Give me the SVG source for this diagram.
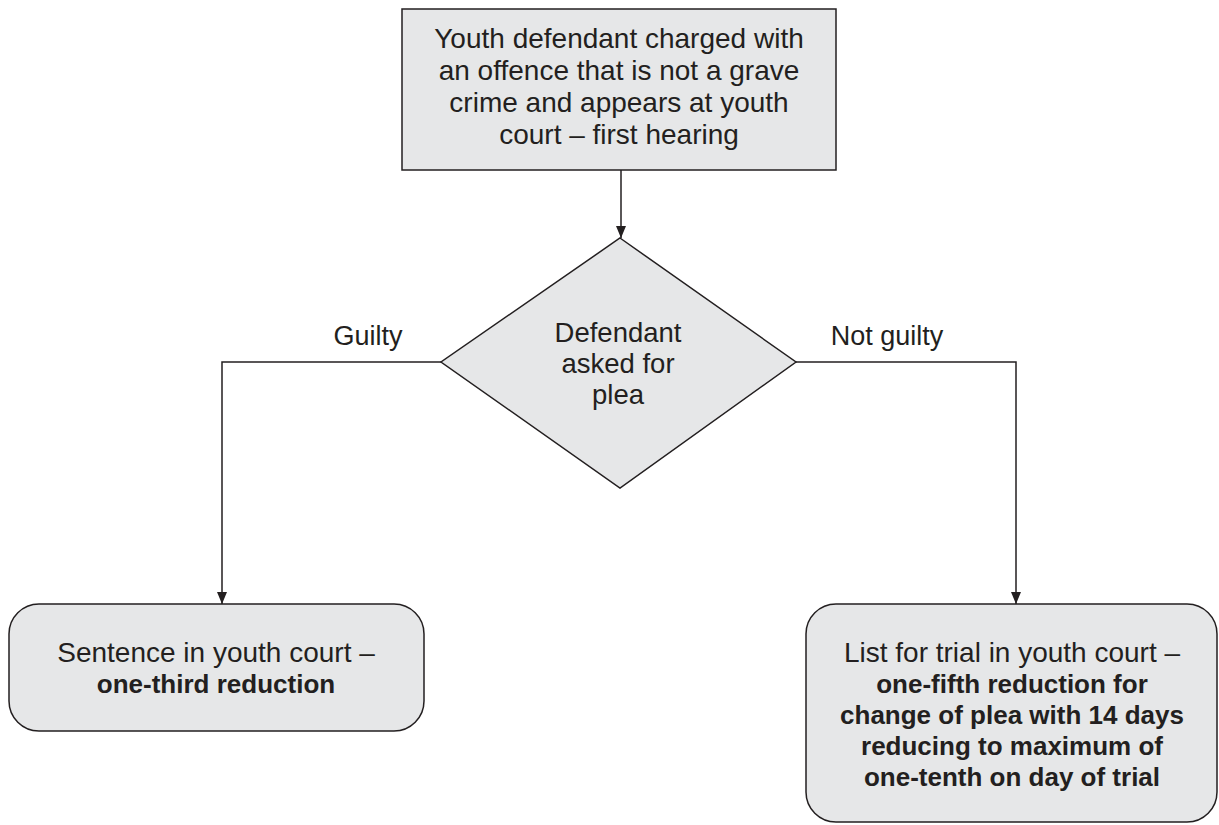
<svg xmlns="http://www.w3.org/2000/svg" width="1219" height="825" viewBox="0 0 1219 825">
<defs>
<style>
.box{fill:#e6e7e8;stroke:#231f20;stroke-width:1.5}
.t{font-family:"Liberation Sans","Noto Sans",sans-serif;font-size:28px;fill:#231f20;text-anchor:middle}
.l{font-size:27px}
.d{font-size:27.5px}
.b{font-weight:bold;font-size:26px}
.c{fill:none;stroke:#231f20;stroke-width:1.5}
</style>
<marker id="ah" viewBox="0 0 12 10" refX="12" refY="5" markerWidth="12" markerHeight="10" markerUnits="userSpaceOnUse" orient="auto">
<path d="M0,0 L12,5 L0,10 z" fill="#231f20"/>
</marker>
</defs>
<rect width="1219" height="825" fill="#ffffff"/>
<g id="connectors">
<path class="c" d="M621,170 V238" marker-end="url(#ah)"/>
<path class="c" d="M441,362 H222 V604" marker-end="url(#ah)"/>
<path class="c" d="M796,362 H1016 V604" marker-end="url(#ah)"/>
<text class="t l" x="368" y="345">Guilty</text>
<text class="t l" x="887" y="345">Not guilty</text>
</g>
<g id="start">
<rect class="box" x="402" y="9" width="434" height="161"/>
<text class="t" x="619" y="48">Youth defendant charged with</text>
<text class="t" x="619" y="80">an offence that is not a grave</text>
<text class="t" x="619" y="112">crime and appears at youth</text>
<text class="t" x="619" y="144">court – first hearing</text>
</g>
<g id="decision">
<polygon class="box" points="620,238 796,362 620,488 441,362"/>
<text class="t d" x="618" y="342">Defendant</text>
<text class="t d" x="618" y="373">asked for</text>
<text class="t d" x="618" y="404">plea</text>
</g>
<g id="guilty">
<rect class="box" x="9" y="604" width="415" height="127" rx="30" ry="30"/>
<text class="t" x="216" y="662">Sentence in youth court –</text>
<text class="t b" x="216" y="693">one-third reduction</text>
</g>
<g id="notguilty">
<rect class="box" x="806" y="604" width="411" height="218" rx="30" ry="30"/>
<text class="t" x="1012" y="662">List for trial in youth court –</text>
<text class="t b" x="1012" y="693">one-fifth reduction for</text>
<text class="t b" x="1012" y="724">change of plea with 14 days</text>
<text class="t b" x="1012" y="755">reducing to maximum of</text>
<text class="t b" x="1012" y="786">one-tenth on day of trial</text>
</g>
</svg>
